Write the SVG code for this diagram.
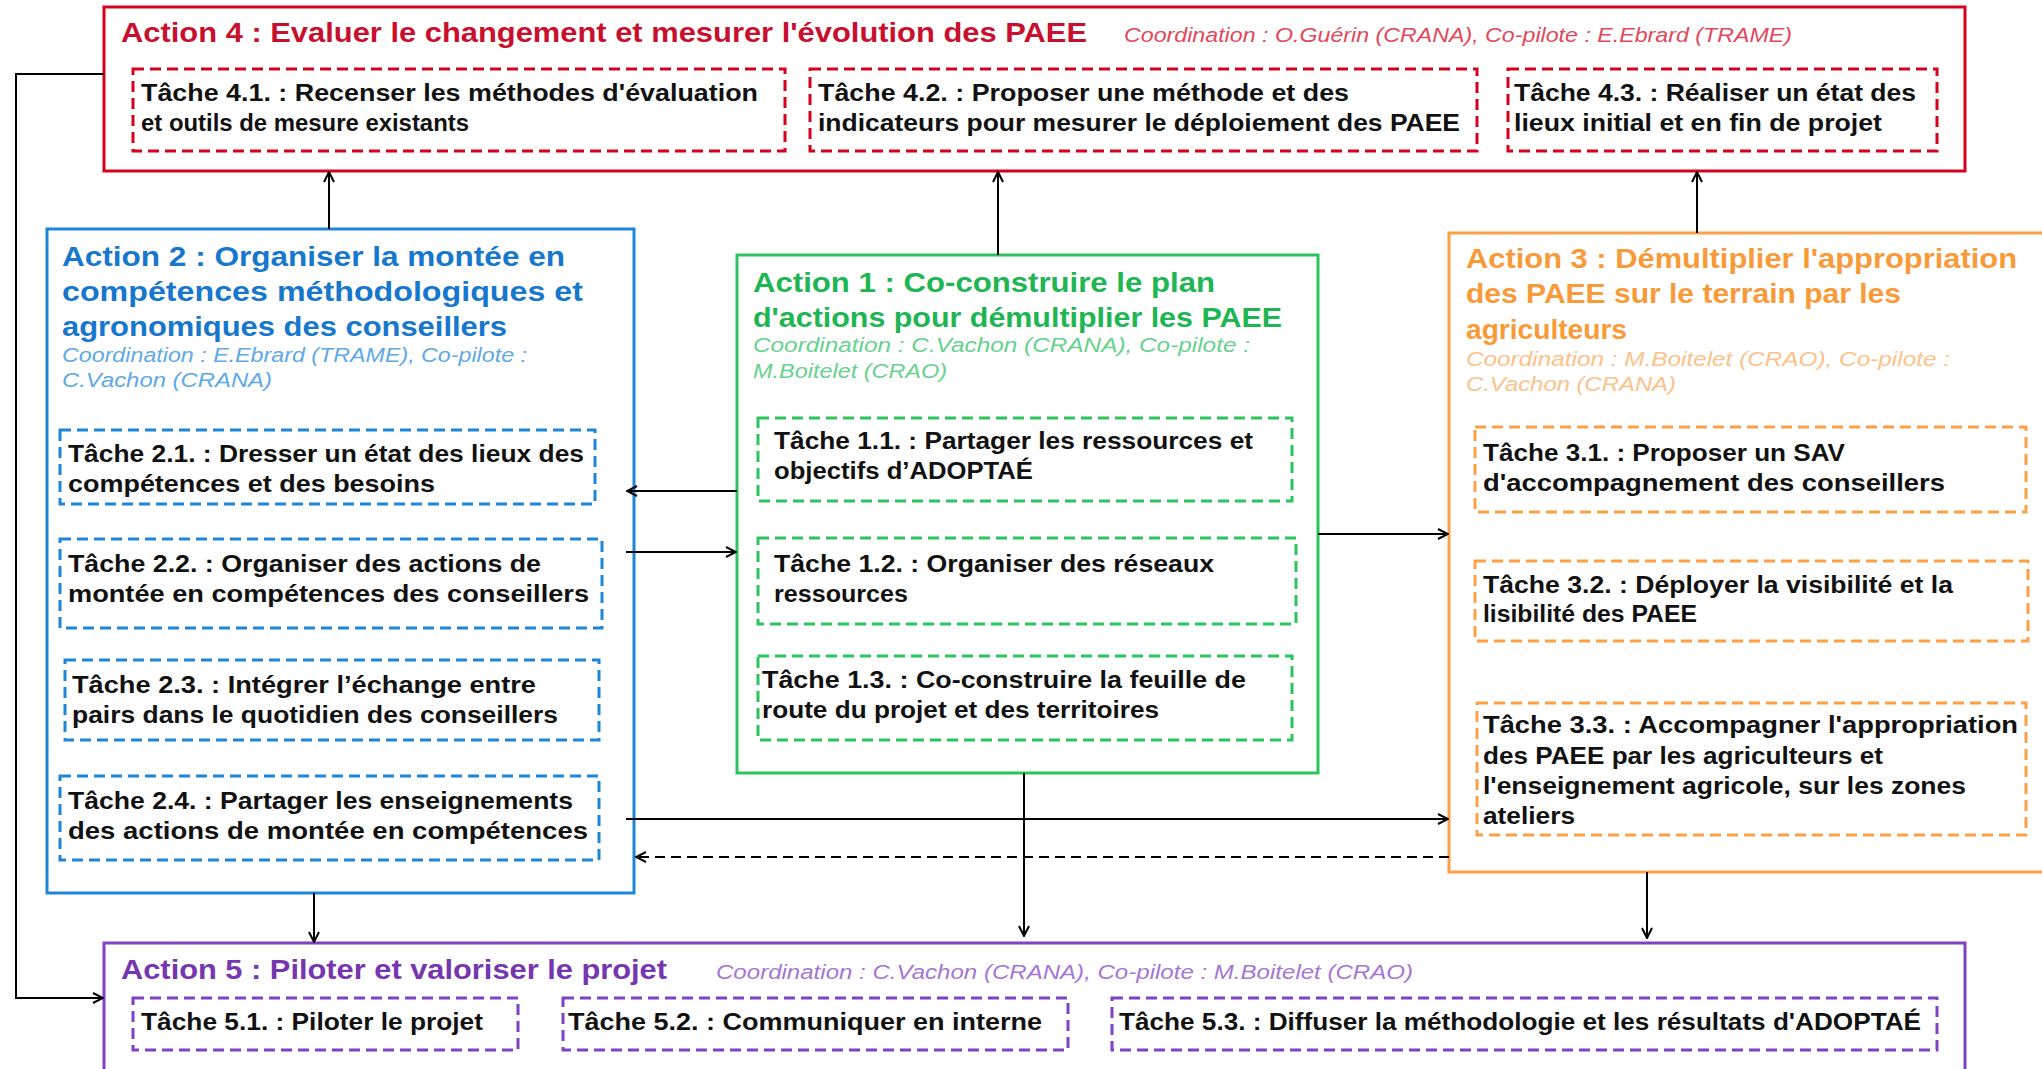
<svg xmlns="http://www.w3.org/2000/svg" width="2042" height="1069" viewBox="0 0 2042 1069">
<defs>
<marker id="ah" viewBox="0 0 12 12" refX="11" refY="6" markerWidth="12" markerHeight="12" markerUnits="userSpaceOnUse" orient="auto">
<path d="M1,1 L11,6 L1,11" fill="none" stroke="#000" stroke-width="2"/>
</marker>
<style>
text{font-family:"Liberation Sans","DejaVu Sans",sans-serif}
.tt{font-size:28px;font-weight:bold}
.co{font-size:20px;font-style:italic}
.tk{font-size:23px;font-weight:bold;fill:#111}
.box{fill:#fff;stroke-width:3}
.tb{fill:none;stroke-width:3;stroke-dasharray:11 6}
.r{stroke:#D6001C}.rt{fill:#C8102E}.rc{fill:#E2485C}
.b{stroke:#1E86D8}.bt{fill:#1677CC}.bc{fill:#5EA9E6}
.g{stroke:#2CC45E}.gt{fill:#1EB553}.gc{fill:#67D18E}
.o{stroke:#FBA044}.ot{fill:#F99A38}.oc{fill:#FBC28A}
.p{stroke:#7F43C2}.pt{fill:#7636B0}.pc{fill:#A576D4}
.ln{fill:none;stroke:#000;stroke-width:2}
</style>
</defs>
<rect width="2042" height="1069" fill="#fff"/>

<g id="action4">
<rect class="box r" x="104" y="7" width="1861" height="164"/>
<text class="tt rt" x="121" y="42" textLength="966" lengthAdjust="spacingAndGlyphs">Action 4 : Evaluer le changement et mesurer l'évolution des PAEE</text>
<text class="co rc" x="1124" y="42" textLength="668" lengthAdjust="spacingAndGlyphs">Coordination : O.Guérin (CRANA), Co-pilote : E.Ebrard (TRAME)</text>
<g id="t41"><rect class="tb r" x="133" y="69" width="652" height="82"/>
<text class="tk" x="141" y="101" textLength="617" lengthAdjust="spacingAndGlyphs">Tâche 4.1. : Recenser les méthodes d'évaluation</text>
<text class="tk" x="141" y="131" textLength="328" lengthAdjust="spacingAndGlyphs">et outils de mesure existants</text></g>
<g id="t42"><rect class="tb r" x="810" y="69" width="667" height="82"/>
<text class="tk" x="818" y="101" textLength="531" lengthAdjust="spacingAndGlyphs">Tâche 4.2. : Proposer une méthode et des</text>
<text class="tk" x="818" y="131" textLength="642" lengthAdjust="spacingAndGlyphs">indicateurs pour mesurer le déploiement des PAEE</text></g>
<g id="t43"><rect class="tb r" x="1508" y="69" width="429" height="82"/>
<text class="tk" x="1514" y="101" textLength="402" lengthAdjust="spacingAndGlyphs">Tâche 4.3. : Réaliser un état des</text>
<text class="tk" x="1514" y="131" textLength="368" lengthAdjust="spacingAndGlyphs">lieux initial et en fin de projet</text></g>
</g>

<g id="action2">
<rect class="box b" x="47" y="229" width="587" height="664"/>
<text class="tt bt" x="62" y="266" textLength="503" lengthAdjust="spacingAndGlyphs">Action 2 : Organiser la montée en</text>
<text class="tt bt" x="62" y="301" textLength="521" lengthAdjust="spacingAndGlyphs">compétences méthodologiques et</text>
<text class="tt bt" x="62" y="336" textLength="445" lengthAdjust="spacingAndGlyphs">agronomiques des conseillers</text>
<text class="co bc" x="62" y="362" textLength="465" lengthAdjust="spacingAndGlyphs">Coordination : E.Ebrard (TRAME), Co-pilote :</text>
<text class="co bc" x="62" y="387" textLength="210" lengthAdjust="spacingAndGlyphs">C.Vachon (CRANA)</text>
<g id="t21"><rect class="tb b" x="60" y="430" width="535" height="74"/>
<text class="tk" x="68" y="462" textLength="516" lengthAdjust="spacingAndGlyphs">Tâche 2.1. : Dresser un état des lieux des</text>
<text class="tk" x="68" y="492" textLength="367" lengthAdjust="spacingAndGlyphs">compétences et des besoins</text></g>
<g id="t22"><rect class="tb b" x="60" y="539" width="542" height="89"/>
<text class="tk" x="68" y="572" textLength="473" lengthAdjust="spacingAndGlyphs">Tâche 2.2. : Organiser des actions de</text>
<text class="tk" x="68" y="602" textLength="521" lengthAdjust="spacingAndGlyphs">montée en compétences des conseillers</text></g>
<g id="t23"><rect class="tb b" x="65" y="660" width="534" height="80"/>
<text class="tk" x="72" y="693" textLength="464" lengthAdjust="spacingAndGlyphs">Tâche 2.3. : Intégrer l’échange entre</text>
<text class="tk" x="72" y="723" textLength="486" lengthAdjust="spacingAndGlyphs">pairs dans le quotidien des conseillers</text></g>
<g id="t24"><rect class="tb b" x="60" y="776" width="539" height="84"/>
<text class="tk" x="68" y="809" textLength="505" lengthAdjust="spacingAndGlyphs">Tâche 2.4. : Partager les enseignements</text>
<text class="tk" x="68" y="839" textLength="520" lengthAdjust="spacingAndGlyphs">des actions de montée en compétences</text></g>
</g>

<g id="action1">
<rect class="box g" x="737" y="255" width="581" height="518"/>
<text class="tt gt" x="753" y="292" textLength="462" lengthAdjust="spacingAndGlyphs">Action 1 : Co-construire le plan</text>
<text class="tt gt" x="753" y="327" textLength="529" lengthAdjust="spacingAndGlyphs">d'actions pour démultiplier les PAEE</text>
<text class="co gc" x="753" y="352" textLength="497" lengthAdjust="spacingAndGlyphs">Coordination : C.Vachon (CRANA), Co-pilote :</text>
<text class="co gc" x="753" y="378" textLength="194" lengthAdjust="spacingAndGlyphs">M.Boitelet (CRAO)</text>
<g id="t11"><rect class="tb g" x="758" y="418" width="534" height="83"/>
<text class="tk" x="774" y="449" textLength="479" lengthAdjust="spacingAndGlyphs">Tâche 1.1. : Partager les ressources et</text>
<text class="tk" x="774" y="479" textLength="259" lengthAdjust="spacingAndGlyphs">objectifs d’ADOPTAÉ</text></g>
<g id="t12"><rect class="tb g" x="758" y="538" width="538" height="86"/>
<text class="tk" x="774" y="572" textLength="440" lengthAdjust="spacingAndGlyphs">Tâche 1.2. : Organiser des réseaux</text>
<text class="tk" x="774" y="602" textLength="134" lengthAdjust="spacingAndGlyphs">ressources</text></g>
<g id="t13"><rect class="tb g" x="758" y="656" width="534" height="84"/>
<text class="tk" x="762" y="688" textLength="484" lengthAdjust="spacingAndGlyphs">Tâche 1.3. : Co-construire la feuille de</text>
<text class="tk" x="762" y="718" textLength="397" lengthAdjust="spacingAndGlyphs">route du projet et des territoires</text></g>
</g>

<g id="action3">
<rect class="box o" x="1449" y="233" width="600" height="639"/>
<text class="tt ot" x="1466" y="268" textLength="551" lengthAdjust="spacingAndGlyphs">Action 3 : Démultiplier l'appropriation</text>
<text class="tt ot" x="1466" y="303" textLength="435" lengthAdjust="spacingAndGlyphs">des PAEE sur le terrain par les</text>
<text class="tt ot" x="1466" y="339" textLength="161" lengthAdjust="spacingAndGlyphs">agriculteurs</text>
<text class="co oc" x="1466" y="366" textLength="484" lengthAdjust="spacingAndGlyphs">Coordination :  M.Boitelet (CRAO), Co-pilote :</text>
<text class="co oc" x="1466" y="391" textLength="210" lengthAdjust="spacingAndGlyphs">C.Vachon (CRANA)</text>
<g id="t31"><rect class="tb o" x="1475" y="427" width="551" height="85"/>
<text class="tk" x="1483" y="461" textLength="362" lengthAdjust="spacingAndGlyphs">Tâche 3.1. : Proposer un SAV</text>
<text class="tk" x="1483" y="491" textLength="462" lengthAdjust="spacingAndGlyphs">d'accompagnement des conseillers</text></g>
<g id="t32"><rect class="tb o" x="1475" y="561" width="553" height="80"/>
<text class="tk" x="1483" y="593" textLength="470" lengthAdjust="spacingAndGlyphs">Tâche 3.2. : Déployer la visibilité et la</text>
<text class="tk" x="1483" y="622" textLength="214" lengthAdjust="spacingAndGlyphs">lisibilité des PAEE</text></g>
<g id="t33"><rect class="tb o" x="1477" y="703" width="549" height="132"/>
<text class="tk" x="1483" y="733" textLength="535" lengthAdjust="spacingAndGlyphs">Tâche 3.3. : Accompagner l'appropriation</text>
<text class="tk" x="1483" y="764" textLength="400" lengthAdjust="spacingAndGlyphs">des PAEE par les agriculteurs et</text>
<text class="tk" x="1483" y="794" textLength="483" lengthAdjust="spacingAndGlyphs">l'enseignement agricole, sur les zones</text>
<text class="tk" x="1483" y="824" textLength="92" lengthAdjust="spacingAndGlyphs">ateliers</text></g>
</g>

<g id="action5">
<rect class="box p" x="104" y="943" width="1861" height="140"/>
<text class="tt pt" x="121" y="979" textLength="546" lengthAdjust="spacingAndGlyphs">Action 5 : Piloter et valoriser le projet</text>
<text class="co pc" x="716" y="979" textLength="697" lengthAdjust="spacingAndGlyphs">Coordination : C.Vachon (CRANA), Co-pilote : M.Boitelet (CRAO)</text>
<g id="t51"><rect class="tb p" x="133" y="998" width="385" height="52"/>
<text class="tk" x="141" y="1030" textLength="342" lengthAdjust="spacingAndGlyphs">Tâche 5.1. : Piloter le projet</text></g>
<g id="t52"><rect class="tb p" x="563" y="998" width="505" height="52"/>
<text class="tk" x="568" y="1030" textLength="474" lengthAdjust="spacingAndGlyphs">Tâche 5.2. : Communiquer en interne</text></g>
<g id="t53"><rect class="tb p" x="1112" y="998" width="825" height="52"/>
<text class="tk" x="1119" y="1030" textLength="802" lengthAdjust="spacingAndGlyphs">Tâche 5.3. : Diffuser la méthodologie et les résultats d'ADOPTAÉ</text></g>
</g>

<g id="connectors">
<polyline class="ln" points="104,74 16,74 16,998 103,998" marker-end="url(#ah)"/>
<line class="ln" x1="329" y1="229" x2="329" y2="172" marker-end="url(#ah)"/>
<line class="ln" x1="998" y1="255" x2="998" y2="172" marker-end="url(#ah)"/>
<line class="ln" x1="1697" y1="233" x2="1697" y2="172" marker-end="url(#ah)"/>
<line class="ln" x1="737" y1="491" x2="627" y2="491" marker-end="url(#ah)"/>
<line class="ln" x1="626" y1="552" x2="736" y2="552" marker-end="url(#ah)"/>
<line class="ln" x1="1318" y1="534" x2="1448" y2="534" marker-end="url(#ah)"/>
<line class="ln" x1="626" y1="819" x2="1448" y2="819" marker-end="url(#ah)"/>
<line class="ln" x1="1449" y1="857" x2="636" y2="857" stroke-dasharray="10 6" marker-end="url(#ah)"/>
<line class="ln" x1="314" y1="893" x2="314" y2="942" marker-end="url(#ah)"/>
<line class="ln" x1="1024" y1="773" x2="1024" y2="936" marker-end="url(#ah)"/>
<line class="ln" x1="1647" y1="872" x2="1647" y2="938" marker-end="url(#ah)"/>
</g>
</svg>
